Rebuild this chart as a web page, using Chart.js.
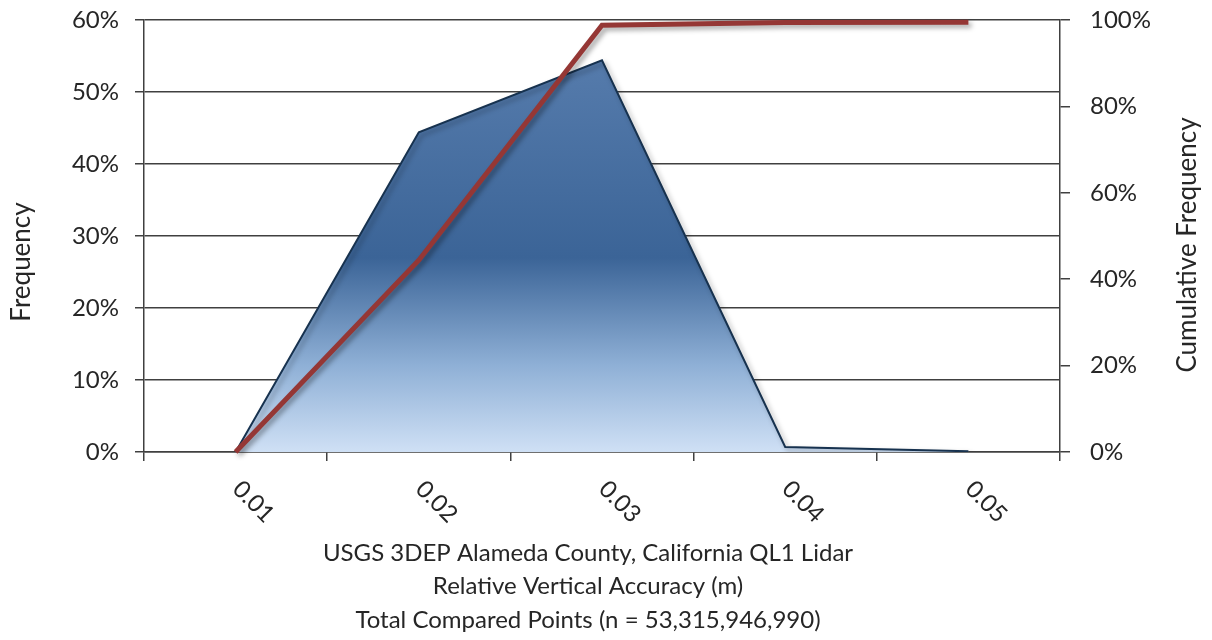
<!DOCTYPE html>
<html>
<head>
<meta charset="utf-8">
<script src="https://cdn.jsdelivr.net/npm/chart.js@4"></script>
<style>
  html, body { margin: 0; padding: 0; background: #fff; }
  #wrap { width: 1212px; height: 640px; }
</style>
</head>
<body>
<div id="wrap"><canvas id="chart"></canvas></div>
<script>
const categories = ['0.01', '0.02', '0.03', '0.04', '0.05'];
const frequency = [0, 44.4, 54.4, 0.7, 0.1];
const cumulative = [0, 44.4, 98.8, 99.4, 99.5];
const xTitle = [
    'USGS 3DEP Alameda County, California QL1 Lidar',
    'Relative Vertical Accuracy (m)',
    'Total Compared Points (n = 53,315,946,990)'
];

const FONT = 'Lato, "Open Sans", sans-serif';
const TEXT = '#262626';
const LINE = '#404040';

// soft drop shadow under both series, like the office chart
const shadowPlugin = {
    id: 'shadow',
    beforeDatasetDraw(chart, args) {
        const ctx = chart.ctx;
        ctx.save();
        ctx.shadowColor = 'rgba(0,0,0,0.35)';
        ctx.shadowBlur = 5;
        ctx.shadowOffsetX = 3;
        ctx.shadowOffsetY = 3;
    },
    afterDatasetDraw(chart) {
        chart.ctx.restore();
    }
};

// rotated category labels and the axis titles
const textPlugin = {
    id: 'texts',
    afterDraw(chart) {
        const ctx = chart.ctx;
        const x = chart.scales.x;
        const area = chart.chartArea;
        ctx.save();
        ctx.fillStyle = TEXT;
        ctx.font = '24px ' + FONT;
        ctx.textAlign = 'left';
        ctx.textBaseline = 'middle';
        categories.forEach((c, i) => {
            const px = x.getPixelForValue(i);
            ctx.save();
            ctx.translate(px + 1, area.bottom + 33);
            ctx.rotate(Math.PI / 4);
            ctx.fillText(c, 0, 0);
            ctx.restore();
        });

        ctx.textAlign = 'center';
        const cx = 588;
        xTitle.forEach((t, i) => ctx.fillText(t, cx, 553 + i * 33.5));

        ctx.font = '26px ' + FONT;
        ctx.save();
        ctx.translate(22, 262);
        ctx.rotate(-Math.PI / 2);
        ctx.fillText('Frequency', 0, 0);
        ctx.restore();

        ctx.save();
        ctx.translate(1188, 245);
        ctx.rotate(-Math.PI / 2);
        ctx.fillText('Cumulative Frequency', 0, 0);
        ctx.restore();
        ctx.restore();
    }
};

// fixed axis boxes so the plot area sits where the original one does
function fixBox(w) {
    return (s) => {
        s.width = w;
        s.paddingTop = 12;
        s.paddingBottom = 12;
    };
}

const ctx = document.getElementById('chart').getContext('2d');

const data = {
    labels: categories,
    datasets: [
        {
            label: 'Cumulative Frequency',
            data: cumulative,
            yAxisID: 'y1',
            borderColor: '#953735',
            borderWidth: 5,
            pointRadius: 0,
            tension: 0,
            fill: false,
            clip: false,
            order: 0
        },
        {
            label: 'Frequency',
            data: frequency,
            yAxisID: 'y',
            borderColor: '#17324f',
            borderWidth: 2,
            pointRadius: 0,
            tension: 0,
            fill: 'origin',
            backgroundColor: (c) => {
                const a = c.chart.chartArea;
                if (!a) return '#4f81bd';
                const g = c.chart.ctx.createLinearGradient(0, a.top, 0, a.bottom);
                g.addColorStop(0, '#5b80b0');
                g.addColorStop(0.55, '#3b6497');
                g.addColorStop(0.8, '#8fb0d6');
                g.addColorStop(1, '#cfe0f5');
                return g;
            },
            order: 1
        }
    ]
};

const config = {
    type: 'line',
    data: data,
    plugins: [shadowPlugin, textPlugin],
    options: {
        responsive: true,
        maintainAspectRatio: false,
        animation: false,
        events: [],
        layout: { padding: { top: 20 } },
        plugins: {
            legend: { display: false },
            tooltip: { enabled: false }
        },
        scales: {
            x: {
                offset: true,
                grid: {
                    offset: true,
                    drawOnChartArea: false,
                    drawTicks: true,
                    tickLength: 9,
                    color: LINE,
                    lineWidth: 1.5
                },
                border: { display: true, color: LINE, width: 1.5 },
                ticks: { display: false },
                afterFit: (s) => { s.height = 188; }
            },
            y: {
                position: 'left',
                min: 0,
                max: 60,
                ticks: {
                    stepSize: 10,
                    color: TEXT,
                    font: { family: FONT, size: 24 },
                    padding: 16,
                    callback: (v) => v + '%'
                },
                grid: {
                    color: LINE,
                    lineWidth: 1.5,
                    tickLength: 9
                },
                border: { display: true, color: LINE, width: 1.5 },
                afterFit: fixBox(144)
            },
            y1: {
                position: 'right',
                min: 0,
                max: 100,
                ticks: {
                    stepSize: 20,
                    color: TEXT,
                    font: { family: FONT, size: 24 },
                    padding: 20,
                    callback: (v) => v + '%'
                },
                grid: {
                    drawOnChartArea: false,
                    color: LINE,
                    lineWidth: 1.5,
                    tickLength: 10
                },
                border: { display: true, color: LINE, width: 1.5 },
                afterFit: fixBox(152)
            }
        }
    }
};

const chart = new Chart(ctx, config);
</script>
</body>
</html>
